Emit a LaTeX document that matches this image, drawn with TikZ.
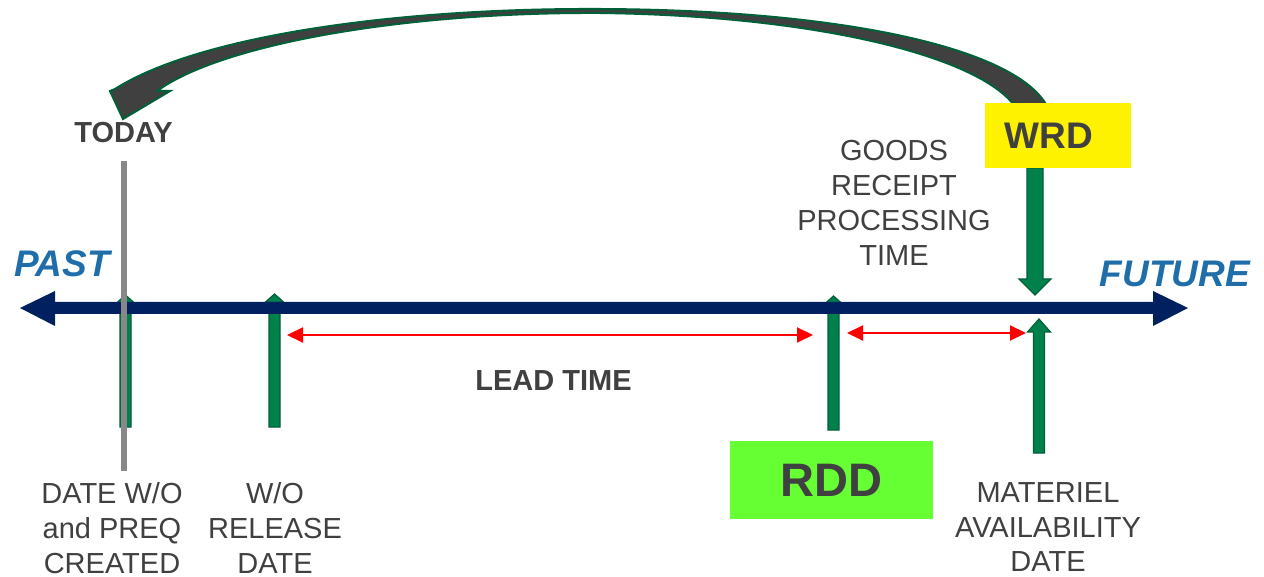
\documentclass[tikz,border=0pt]{standalone}
\usepackage{fontspec}
\setmainfont{Liberation Sans}
\usetikzlibrary{arrows.meta}

\definecolor{axisnavy}{RGB}{0,32,96}
\definecolor{markgreen}{RGB}{0,128,74}
\definecolor{markedge}{RGB}{0,96,56}
\definecolor{txtgray}{RGB}{64,64,64}
\definecolor{timeblue}{RGB}{31,110,170}
\definecolor{rddgreen}{RGB}{102,255,51}
\definecolor{todaygray}{RGB}{136,136,136}
\definecolor{loopgray}{RGB}{64,64,64}

% upward marker: name, centre x, tip y, head base y, bottom y, shaft half width, head half width
\newcommand\upmarker[7]{%
  \filldraw[marker] (#2,#3) -- ({#2+#7},#4) -- ({#2+#6},#4) -- ({#2+#6},#5)
    -- ({#2-#6},#5) -- ({#2-#6},#4) -- ({#2-#7},#4) -- cycle;
  \coordinate (#1) at (#2,#5);}

\begin{document}
\begin{tikzpicture}[x=0.5pt,y=-0.5pt,
  marker/.style={fill=markgreen,draw=markedge,line width=0.6pt},
  span/.style={draw=red,line width=1pt,
    {Triangle[length=8pt,width=7.5pt]}-{Triangle[length=8pt,width=7.5pt]}},
  lbl/.style={text=txtgray,align=center,inner sep=0pt,
    font=\fontsize{14.5}{17.4}\selectfont},
  boldlbl/.style={text=txtgray,inner sep=0pt,
    font=\fontsize{14.5}{17.4}\selectfont\bfseries},
  era/.style={text=timeblue,inner sep=0pt,
    font=\fontsize{18.5}{22}\selectfont\bfseries\itshape},
]
\useasboundingbox (0,0) rectangle (1264,577);

% date markers under the time axis
\upmarker{created}{125.5}{295}{303}{427}{5.5}{9}
\upmarker{release}{274.5}{294}{302}{427}{5.5}{9}
\upmarker{rdd}{833.5}{296}{304}{430}{5.5}{9}

% time axis, arrow heads at both ends
\fill[axisnavy] (20,308) -- (55,291) -- (55,302) -- (1153,302) -- (1153,291)
  -- (1188,308) -- (1153,326) -- (1153,314) -- (55,314) -- (55,326) -- cycle;

% materiel availability marker
\upmarker{mad}{1039}{319}{332}{453}{5.5}{11.5}

% WRD pointing down to the axis
\filldraw[marker] (1027,168) -- (1043,168) -- (1043,279) -- (1051,279)
  -- (1035,295) -- (1019,279) -- (1027,279) -- cycle;

% lead time and goods receipt spans
\coordinate (leadA) at (287,335);
\coordinate (leadB) at (813,335);
\coordinate (grA) at (847,333);
\coordinate (grB) at (1026,333);
\draw[span] (leadA) -- (leadB);
\draw[span] (grA) -- (grB);

% sweeping arrow from WRD back to TODAY
\filldraw[fill=loopgray,draw=markedge,line width=1pt,line join=miter]
  (115,89) .. controls (200,35) and (400,8) .. (600,9)
  .. controls (850,10) and (1020,50) .. (1048,108)
  -- (1016,108)
  .. controls (985,60) and (830,16) .. (600,13)
  .. controls (400,12) and (220,45) .. (157,91)
  -- (170,91) -- (123,119) -- (110,91) -- cycle;

% date boxes
\node[fill=yellow,minimum width=73pt,minimum height=32.5pt,inner sep=0pt,
  text=txtgray,font=\fontsize{18.5}{22}\selectfont\bfseries]
  (wrd) at (1058,135.5) {WRD\hspace*{9pt}};
\node[fill=rddgreen,minimum width=101.5pt,minimum height=39pt,inner sep=0pt,
  text=txtgray,font=\fontsize{23.5}{28}\selectfont\bfseries]
  (rddbox) at (831.5,480) {RDD};

% texts
\node[boldlbl,anchor=base] (today) at (123.5,143) {TODAY};
\node[era,anchor=base] (past) at (62,277) {PAST};
\node[era,anchor=base] (future) at (1175,287) {FUTURE};
\node[boldlbl,anchor=base] (lead) at (553.5,390) {LEAD TIME};
\node[lbl,anchor=north] (grpt) at (894,140) {GOODS\\RECEIPT\\PROCESSING\\TIME};
\node[lbl,anchor=north] (createdlbl) at (112,482) {DATE W/O\\and PREQ\\CREATED};
\node[lbl,anchor=north] (releaselbl) at (275,482) {W/O\\RELEASE\\DATE};
\node[lbl,anchor=north] (madlbl) at (1048,482) {MATERIEL\\AVAILABILITY\\DATE};

% today line
\coordinate (todayTop) at (124,161);
\coordinate (todayBot) at (124,471);
\draw[todaygray,line width=3pt] (todayTop) -- (todayBot);
\end{tikzpicture}
\end{document}
